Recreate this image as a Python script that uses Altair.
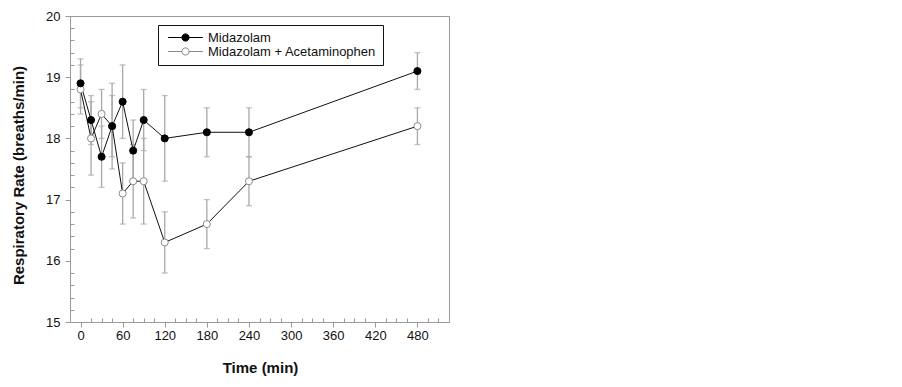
import altair as alt
import pandas as pd

times = [0, 15, 30, 45, 60, 75, 90, 120, 180, 240, 480]
mid_mean = [18.9, 18.3, 17.7, 18.2, 18.6, 17.8, 18.3, 18.0, 18.1, 18.1, 19.1]
mid_err = [0.4, 0.4, 0.5, 0.7, 0.6, 0.5, 0.5, 0.7, 0.4, 0.4, 0.3]
ace_mean = [18.8, 18.0, 18.4, 18.2, 17.1, 17.3, 17.3, 16.3, 16.6, 17.3, 18.2]
ace_err = [0.4, 0.6, 0.4, 0.5, 0.5, 0.6, 0.7, 0.5, 0.4, 0.4, 0.3]
series_names = ["Midazolam", "Midazolam + Acetaminophen"]

x_major_ticks = [0, 60, 120, 180, 240, 300, 360, 420, 480]
x_minor_ticks = [t for t in range(15, 525, 15) if t % 60 != 0]
y_major_ticks = [15, 16, 17, 18, 19, 20]
y_minor_ticks = [round(15 + 0.2 * i, 1) for i in range(1, 25) if i % 5 != 0]

rows = []
for k, (name, means, errs) in enumerate([(series_names[0], mid_mean, mid_err),
                                         (series_names[1], ace_mean, ace_err)]):
    for t, m, e in zip(times, means, errs):
        rows.append(dict(series=name, time=t, rate=m, lo=round(m - e, 2), hi=round(m + e, 2),
                         ord=1 - k))
df = pd.DataFrame(rows)

FONT = "Liberation Sans"
AX = "#999999"
TOP = 8
xscale = alt.Scale(domain=[-15, 525], nice=False, zero=False)
yscale = alt.Scale(domain=[15, 20], nice=False, zero=False)

x_major = alt.Axis(orient="bottom", values=x_major_ticks, tickSize=5, labelPadding=2,
                   labelFontSize=13, labelFont=FONT, labelColor="#111", tickColor=AX,
                   domainColor=AX, grid=False, title="Time (min)", titleFont=FONT,
                   titleFontSize=15, titleFontWeight="bold", titleColor="#111",
                   titleX=190, titleY=45, titleBaseline="middle", titleAnchor="middle",
                   labelFlush=False)
y_major = alt.Axis(orient="left", values=y_major_ticks, tickSize=5, labelPadding=5,
                   labelFontSize=13, labelFont=FONT, labelColor="#111", tickColor=AX,
                   domainColor=AX, grid=False, title="Respiratory Rate (breaths/min)",
                   titleFont=FONT, titleFontSize=15, titleFontWeight="bold", titleColor="#111",
                   titleX=-52, titleY=167 - TOP, titleBaseline="middle", titleAnchor="middle",
                   labelFlush=False)
x_minor = alt.Axis(orient="bottom", values=x_minor_ticks, tickSize=4, offset=-4,
                   labels=False, domain=False, grid=False, tickColor=AX, title=None)
y_minor = alt.Axis(orient="left", values=y_minor_ticks, tickSize=4, offset=-4,
                   labels=False, domain=False, grid=False, tickColor=AX, title=None)

base = alt.Chart(df)

err = base.mark_rule(color="#a8a8a8", strokeWidth=1.3).encode(
    x=alt.X("time:Q", scale=xscale, axis=x_major),
    y=alt.Y("lo:Q", scale=yscale, axis=y_major),
    y2="hi:Q",
    detail="series:N",
)
cap_lo = base.mark_tick(color="#a8a8a8", orient="horizontal", size=6, thickness=1.3).encode(
    x=alt.X("time:Q", scale=xscale, axis=None),
    y=alt.Y("lo:Q", scale=yscale, axis=None),
)
cap_hi = base.mark_tick(color="#a8a8a8", orient="horizontal", size=6, thickness=1.3).encode(
    x=alt.X("time:Q", scale=xscale, axis=None),
    y=alt.Y("hi:Q", scale=yscale, axis=None),
)
lines = base.mark_line(color="#111", strokeWidth=1).encode(
    x=alt.X("time:Q", scale=xscale, axis=None),
    y=alt.Y("rate:Q", scale=yscale, axis=None),
    detail="series:N",
)

legend_path = ("M-2.9,0L-0.6,0M0.6,0L2.9,0M-0.6,0A0.6,0.6,0,1,1,0.6,0"
               "A0.6,0.6,0,1,1,-0.6,0Z")
legend = alt.Legend(orient="none", legendX=88, legendY=17 - TOP, title=None,
                    symbolType=legend_path, symbolSize=144, symbolStrokeWidth=1,
                    symbolOffset=15, labelOffset=16, labelFont=FONT, labelFontSize=13,
                    labelColor="#111", labelLimit=400, rowPadding=0, padding=6,
                    strokeColor="#111", fillColor="white", symbolFillColor="white")

points = base.mark_point(filled=False, size=50, strokeWidth=1, opacity=1).encode(
    x=alt.X("time:Q", scale=xscale, axis=None),
    y=alt.Y("rate:Q", scale=yscale, axis=None),
    fill=alt.Fill("series:N", scale=alt.Scale(domain=series_names, range=["#000000", "#ffffff"]),
                  legend=legend),
    stroke=alt.Stroke("series:N", scale=alt.Scale(domain=series_names, range=["#000000", "#8a8a8a"]),
                      legend=legend),
    order=alt.Order("ord:Q"),
)

minor = base.mark_point(opacity=0).encode(
    x=alt.X("time:Q", scale=xscale, axis=x_minor),
    y=alt.Y("rate:Q", scale=yscale, axis=y_minor),
)

chart = alt.layer(err, cap_lo, cap_hi, lines, points, minor).resolve_axis(
    x="independent", y="independent"
).resolve_scale(x="shared", y="shared").properties(
    width=379, height=314 - TOP,
    autosize=alt.AutoSizeParams(type="none"),
    padding={"left": 62, "top": TOP, "right": 10, "bottom": 57},
).configure_view(stroke=AX, strokeWidth=1)

chart.save("out.html", embed_options={"renderer": "svg", "actions": False})
